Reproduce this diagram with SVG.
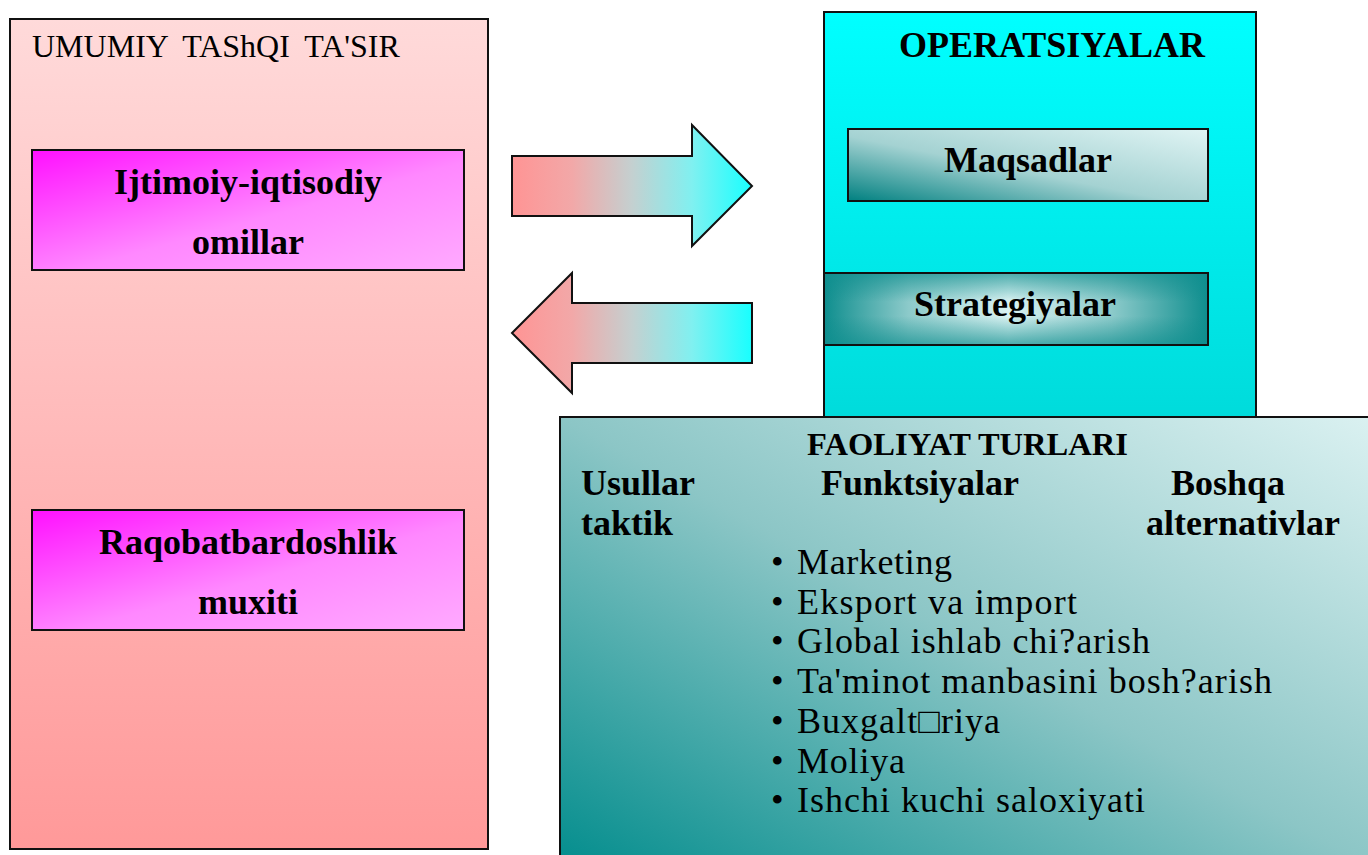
<svg xmlns="http://www.w3.org/2000/svg" width="1368" height="855" viewBox="0 0 1368 855">
<defs>
<linearGradient id="gLeft" x1="0" y1="0" x2="0" y2="1"><stop offset="0" stop-color="#ffdada"/><stop offset="1" stop-color="#ff9999"/></linearGradient>
<linearGradient id="gMag" x1="0" y1="0" x2="1" y2="1"><stop offset="0" stop-color="#ff10ff"/><stop offset="0.55" stop-color="#ff88ff"/><stop offset="1" stop-color="#ffaaff"/></linearGradient>
<linearGradient id="gArrow" x1="0" y1="0" x2="1" y2="0"><stop offset="0" stop-color="#ff9494"/><stop offset="0.25" stop-color="#f2a8a8"/><stop offset="0.5" stop-color="#c4d0d0"/><stop offset="0.75" stop-color="#80f0f0"/><stop offset="1" stop-color="#18ffff"/></linearGradient>
<linearGradient id="gOps" x1="0" y1="0" x2="0" y2="1"><stop offset="0" stop-color="#00ffff"/><stop offset="1" stop-color="#00dada"/></linearGradient>
<linearGradient id="gMaq" x1="0" y1="1" x2="1" y2="0"><stop offset="0" stop-color="#008080"/><stop offset="0.45" stop-color="#a4d2d2"/><stop offset="1" stop-color="#e0f4f4"/></linearGradient>
<linearGradient id="gStrH" x1="0" y1="0" x2="1" y2="0"><stop offset="0" stop-color="#0e8e8e"/><stop offset="0.22" stop-color="#8ccaca"/><stop offset="0.48" stop-color="#daf2f2"/><stop offset="0.75" stop-color="#8ccaca"/><stop offset="1" stop-color="#0e8e8e"/></linearGradient>
<linearGradient id="gStrV" x1="0" y1="0" x2="0" y2="1"><stop offset="0" stop-color="#0e8e8e" stop-opacity="0.7"/><stop offset="0.4" stop-color="#0e8e8e" stop-opacity="0"/><stop offset="0.6" stop-color="#0e8e8e" stop-opacity="0"/><stop offset="1" stop-color="#0e8e8e" stop-opacity="0.7"/></linearGradient>
<linearGradient id="gBot" x1="0" y1="1" x2="1" y2="0"><stop offset="0" stop-color="#008c8c"/><stop offset="0.5" stop-color="#8cc6c6"/><stop offset="1" stop-color="#dcf2f2"/></linearGradient>
</defs>
<style>
.box{stroke:#111;stroke-width:2}
.arr{fill:url(#gArrow);stroke:#111;stroke-width:2;stroke-linejoin:miter}
.t{font-family:"Liberation Serif","Times New Roman",serif;fill:#000}
.b{font-weight:bold;font-size:36px}
.c{text-anchor:middle}
.n{font-size:36px}
</style>
<g id="obshchiy">
<rect class="box" x="10" y="19" width="478" height="830" fill="url(#gLeft)"/>
<text class="t" x="32" y="57" font-size="32" word-spacing="7">UMUMIY TAShQI TA'SIR</text>
</g>
<g id="ijtimoiy">
<rect class="box" x="32" y="150" width="432" height="120" fill="url(#gMag)"/>
<text class="t b c" x="248" y="194">Ijtimoiy-iqtisodiy</text>
<text class="t b c" x="248" y="254">omillar</text>
</g>
<g id="raqobat">
<rect class="box" x="32" y="510" width="432" height="120" fill="url(#gMag)"/>
<text class="t b c" x="248" y="554">Raqobatbardoshlik</text>
<text class="t b c" x="248" y="614">muxiti</text>
</g>
<g id="connectors">
<polygon class="arr" points="512,156 692,156 692,125 752,186 692,246 692,216 512,216"/>
<polygon class="arr" points="512,333 572,273 572,303 752,303 752,363 572,363 572,393"/>
</g>
<g id="operatsiyalar">
<rect class="box" x="824" y="12" width="432" height="420" fill="url(#gOps)"/>
<text class="t b c" x="1052" y="57">OPERATSIYALAR</text>
</g>
<g id="maqsadlar">
<rect class="box" x="848" y="129" width="360" height="72" fill="url(#gMaq)"/>
<text class="t b c" x="1028" y="172">Maqsadlar</text>
</g>
<g id="strategiyalar">
<rect x="824" y="273" width="384" height="72" fill="url(#gStrH)"/>
<rect class="box" x="824" y="273" width="384" height="72" fill="url(#gStrV)"/>
<text class="t b c" x="1015" y="316">Strategiyalar</text>
</g>
<g id="faoliyat">
<rect class="box" x="560" y="417" width="830" height="460" fill="url(#gBot)"/>
<text class="t" x="807" y="455" font-size="31" font-weight="bold" textLength="321" lengthAdjust="spacingAndGlyphs">FAOLIYAT TURLARI</text>
<text class="t b" x="581" y="495">Usullar</text>
<text class="t b" x="581" y="535">taktik</text>
<text class="t b" x="821" y="495">Funktsiyalar</text>
<text class="t b" x="1171" y="495">Boshqa</text>
<text class="t b" x="1146" y="535">alternativlar</text>
<g class="t n">
<text x="771" y="574">•</text><text x="797" y="574" textLength="155" lengthAdjust="spacing">Marketing</text>
<text x="771" y="614">•</text><text x="797" y="614" textLength="280" lengthAdjust="spacing">Eksport va import</text>
<text x="771" y="653">•</text><text x="797" y="653" textLength="353" lengthAdjust="spacing">Global ishlab chi?arish</text>
<text x="771" y="693">•</text><text x="797" y="693" textLength="475" lengthAdjust="spacing">Ta'minot manbasini bosh?arish</text>
<text x="771" y="733">•</text><text x="797" y="733" textLength="203" lengthAdjust="spacing">Buxgalt□riya</text>
<text x="771" y="773">•</text><text x="797" y="773" textLength="108" lengthAdjust="spacing">Moliya</text>
<text x="771" y="812">•</text><text x="797" y="812" textLength="348" lengthAdjust="spacing">Ishchi kuchi saloxiyati</text>
</g>
</g>
</svg>
